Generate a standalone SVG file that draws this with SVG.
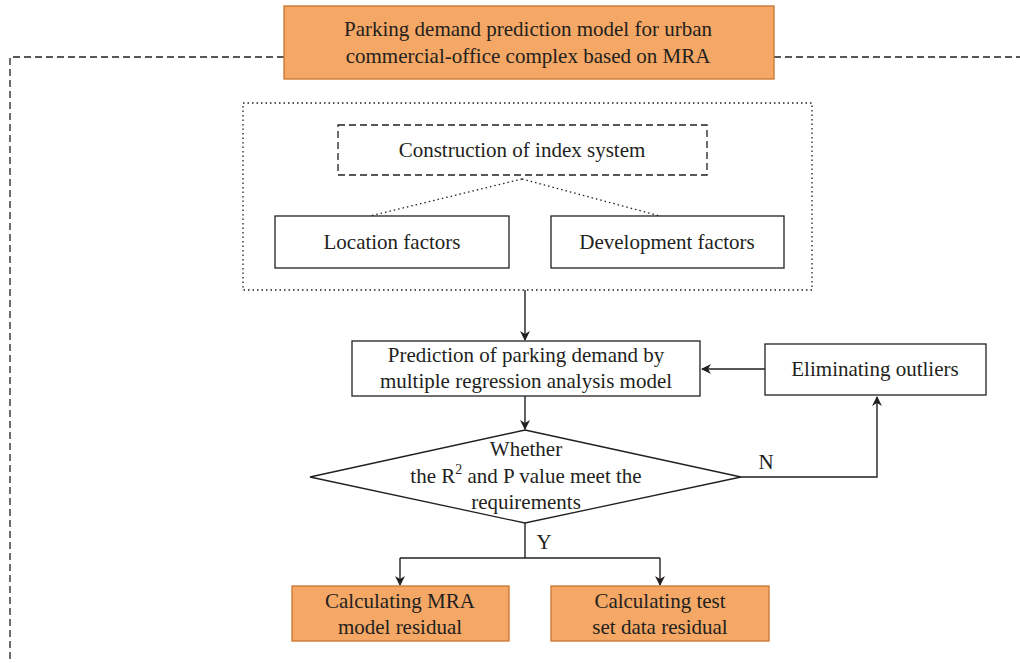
<svg xmlns="http://www.w3.org/2000/svg" width="1020" height="663" viewBox="0 0 1020 663">
<defs>
<style>
text{font-family:"Liberation Serif","DejaVu Serif",serif;font-size:21px;fill:#231f20;text-anchor:middle}
.box{fill:#fff;stroke:#231f20;stroke-width:1.3}
.org{fill:#F5A865;stroke:#C8742E;stroke-width:1.3}
.ln{fill:none;stroke:#231f20;stroke-width:1.4}
.dash{fill:none;stroke:#231f20;stroke-width:1.3;stroke-dasharray:7,4}
.dot{fill:none;stroke:#231f20;stroke-width:1.3;stroke-dasharray:1.5,3}
</style>
<marker id="ar" markerWidth="10" markerHeight="10" refX="9" refY="5" orient="auto" markerUnits="userSpaceOnUse">
<path d="M0,0 L10,5 L0,10 L3,5 Z" fill="#231f20"/>
</marker>
</defs>
<rect width="1020" height="663" fill="#fff"/>
<g id="frame">
<path class="dash" d="M284,57 H10 V663"/>
<path class="dash" d="M774,57 H1020"/>
<rect class="dot" x="243" y="103" width="569" height="187"/>
</g>
<g id="connectors">
<path class="dot" d="M522,179 L370,216"/>
<path class="dot" d="M522,179 L660,216"/>
<path class="ln" d="M525,290 V340" marker-end="url(#ar)"/>
<path class="ln" d="M765,369 H702" marker-end="url(#ar)"/>
<path class="ln" d="M525,396 V429" marker-end="url(#ar)"/>
<path class="ln" d="M741,477 H877 V397" marker-end="url(#ar)"/>
<path class="ln" d="M525,523 V558"/>
<path class="ln" d="M400,558 H660"/>
<path class="ln" d="M400,558 V585" marker-end="url(#ar)"/>
<path class="ln" d="M660,558 V585" marker-end="url(#ar)"/>
<text x="766" y="469">N</text>
<text x="544" y="549">Y</text>
</g>
<g id="title">
<rect class="org" x="284" y="6" width="490" height="73"/>
<text x="528" y="36">Parking demand prediction model for urban</text>
<text x="528" y="63">commercial-office complex based on MRA</text>
</g>
<g id="index">
<rect class="dash" x="338" y="125" width="369" height="50"/>
<text x="522" y="157">Construction of index system</text>
</g>
<g id="location">
<rect class="box" x="275" y="216" width="234" height="52"/>
<text x="392" y="249">Location factors</text>
</g>
<g id="development">
<rect class="box" x="551" y="216" width="233" height="52"/>
<text x="667" y="249">Development factors</text>
</g>
<g id="prediction">
<rect class="box" x="352" y="341" width="348" height="55"/>
<text x="526" y="362">Prediction of parking demand by</text>
<text x="526" y="388">multiple regression analysis model</text>
</g>
<g id="eliminate">
<rect class="box" x="765" y="344" width="221" height="51"/>
<text x="875" y="376">Eliminating outliers</text>
</g>
<g id="decision">
<polygon class="box" points="525,430 741,477 525,523 310,477"/>
<text x="526" y="456">Whether</text>
<text x="526" y="483">the R<tspan dy="-9" font-size="14">2</tspan><tspan dy="9"> and P value meet the</tspan></text>
<text x="526" y="509">requirements</text>
</g>
<g id="mra">
<rect class="org" x="292" y="586" width="217" height="55"/>
<text x="400" y="608">Calculating MRA</text>
<text x="400" y="634">model residual</text>
</g>
<g id="test">
<rect class="org" x="551" y="586" width="218" height="55"/>
<text x="660" y="608">Calculating test</text>
<text x="660" y="634">set data residual</text>
</g>
</svg>
